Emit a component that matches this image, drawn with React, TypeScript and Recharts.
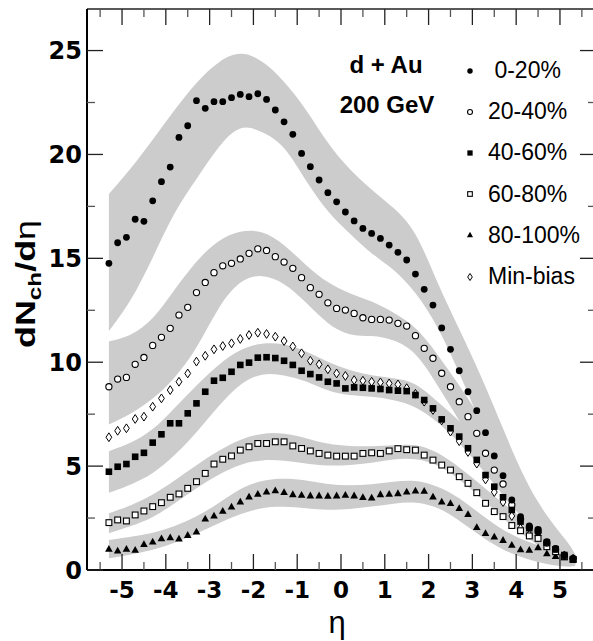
import { ComposedChart, Area, Scatter, XAxis, YAxis, Legend, Customized } from 'recharts'

// pseudorapidity bins of the measured points
const ETA = [
  -5.3, -5.1, -4.9, -4.7, -4.5, -4.3, -4.1, -3.9, -3.7, -3.5, -3.3, -3.1, -2.9, -2.7, -2.5, -2.3, -2.1, -1.9,
  -1.7, -1.5, -1.3, -1.1, -0.9, -0.7, -0.5, -0.3, -0.1, 0.1, 0.3, 0.5, 0.7, 0.9, 1.1, 1.3, 1.5, 1.7,
  1.9, 2.1, 2.3, 2.5, 2.7, 2.9, 3.1, 3.3, 3.5, 3.7, 3.9, 4.1, 4.3, 4.5, 4.7, 4.9, 5.1, 5.3,
]

const C_0_20 = [
  14.76, 15.75, 16.01, 16.88, 16.78, 17.77, 18.69, 19.39, 20.82, 21.38, 22.59, 22.22, 22.54, 22.54, 22.73, 22.89, 22.78, 22.92,
  22.65, 22.14, 21.57, 20.97, 20.05, 19.41, 18.77, 18.16, 17.72, 17.23, 16.8, 16.44, 16.2, 15.96, 15.64, 15.29, 14.92, 14.24,
  13.51, 12.75, 11.65, 10.62, 9.59, 8.58, 7.67, 6.61, 5.49, 4.54, 3.37, 2.57, 2.12, 1.96, 1.36, 1.04, 0.72, 0.56,
]
const C_20_40 = [
  8.82, 9.19, 9.27, 9.9, 10.23, 10.81, 11.2, 11.63, 12.27, 12.64, 13.35, 13.84, 14.31, 14.64, 14.76, 14.97, 15.24, 15.46,
  15.38, 15.08, 14.82, 14.52, 14.07, 13.59, 13.27, 12.86, 12.59, 12.51, 12.35, 12.14, 12.06, 12.06, 12.03, 11.87, 11.74, 11.28,
  10.67, 10.19, 9.47, 8.82, 8.1, 7.38, 6.58, 5.62, 4.81, 4.14, 3.13, 2.45, 2.05, 1.85, 1.3, 1.0, 0.7, 0.55,
]
const C_40_60 = [
  4.73, 4.97, 5.1, 5.45, 5.64, 6.13, 6.53, 7.06, 7.06, 7.54, 8.02, 8.58, 9.11, 9.25, 9.54, 9.87, 9.98, 10.22,
  10.24, 10.2, 10.07, 9.87, 9.59, 9.43, 9.27, 9.06, 8.98, 8.74, 8.79, 8.77, 8.74, 8.71, 8.66, 8.63, 8.61, 8.42,
  8.18, 7.78, 7.25, 6.82, 6.42, 5.86, 5.3, 4.57, 4.01, 3.5, 2.89, 2.33, 2.01, 1.89, 1.32, 1.0, 0.72, 0.51,
]
const C_60_80 = [
  2.28, 2.41, 2.36, 2.65, 2.84, 3.05, 3.24, 3.5, 3.66, 3.93, 4.25, 4.65, 5.1, 5.33, 5.49, 5.77, 5.93, 6.09,
  6.09, 6.17, 6.17, 5.97, 5.85, 5.73, 5.61, 5.53, 5.48, 5.48, 5.48, 5.61, 5.64, 5.61, 5.73, 5.84, 5.79, 5.77,
  5.53, 5.29, 5.05, 4.81, 4.49, 4.17, 3.72, 3.21, 2.81, 2.57, 2.14, 1.89, 1.64, 1.52, 1.12, 0.88, 0.64, 0.51,
]
const C_80_100 = [
  1.01, 0.93, 1.01, 0.96, 1.24, 1.36, 1.52, 1.57, 1.51, 1.68, 1.84, 2.47, 2.61, 2.84, 3.05, 3.29, 3.53, 3.66,
  3.77, 3.83, 3.74, 3.64, 3.61, 3.58, 3.58, 3.56, 3.58, 3.61, 3.58, 3.5, 3.48, 3.64, 3.66, 3.69, 3.77, 3.82,
  3.8, 3.53, 3.29, 3.21, 2.97, 2.68, 2.06, 1.77, 1.6, 1.44, 1.2, 0.99, 0.96, 1.08, 0.8, 0.67, 0.61, 0.51,
]
const MIN_BIAS = [
  6.39, 6.7, 6.82, 7.27, 7.38, 7.86, 8.26, 8.66, 9.06, 9.46, 10.03, 10.31, 10.62, 10.78, 10.91, 11.12, 11.31, 11.42,
  11.36, 11.23, 11.02, 10.76, 10.43, 10.07, 9.9, 9.66, 9.46, 9.34, 9.14, 9.11, 9.06, 9.03, 8.98, 8.93, 8.75, 8.48,
  8.1, 7.7, 7.2, 6.66, 6.2, 5.68, 5.12, 4.36, 3.75, 3.27, 2.6, 2.0, 1.7, 1.65, 1.2, 0.95, 0.7, 0.55,
]

// systematic error bands (lower / upper edge)
const BAND_ETA = [-5.3, -4.8, -4.3, -3.8, -3.3, -2.8, -2.3, -1.8, -1.3, -0.8, -0.3, 0.2, 0.7, 1.2, 1.7, 2.2, 2.7, 3.2, 3.7, 4.2, 4.7, 5.2, 5.35]
const B_0_20_LO = [11.5, 12.9, 15.0, 17.3, 18.8, 20.4, 21.5, 21.1, 20.5, 18.7, 17.2, 16.2, 15.2, 14.5, 13.4, 11.8, 9.5, 7.0, 4.5, 2.8, 1.5, 0.45, 0.3]
const B_0_20_HI = [18.1, 19.3, 20.7, 22.15, 23.5, 24.5, 25.0, 24.55, 23.55, 22.2, 20.5, 19.25, 18.3, 17.45, 16.4, 13.8, 11.6, 9.35, 6.8, 4.3, 2.55, 1.3, 0.75]
const B_20_40_LO = [7.0, 7.5, 8.2, 9.2, 10.6, 12.7, 14.0, 14.25, 13.85, 12.9, 11.8, 11.25, 11.3, 11.1, 10.55, 8.9, 7.2, 5.4, 3.8, 2.6, 1.4, 0.45, 0.3]
const B_20_40_HI = [11.0, 11.25, 12.0, 13.5, 14.9, 15.9, 16.35, 16.35, 15.7, 14.65, 13.8, 13.3, 12.95, 12.4, 11.75, 10.4, 8.9, 7.3, 5.6, 3.9, 2.4, 1.05, 0.6]
const B_40_60_LO = [3.72, 4.1, 4.6, 5.5, 6.6, 7.9, 9.0, 9.5, 9.4, 9.1, 8.6, 8.4, 8.35, 8.2, 7.9, 7.15, 6.15, 4.9, 3.6, 2.3, 1.2, 0.4, 0.3]
const B_40_60_HI = [5.72, 6.1, 6.7, 7.8, 8.9, 9.9, 10.65, 10.95, 10.9, 10.55, 10.0, 9.6, 9.35, 9.25, 9.05, 8.1, 7.2, 6.1, 4.9, 3.5, 2.3, 1.0, 0.55]
const B_60_80_LO = [1.77, 2.1, 2.5, 3.2, 3.95, 4.6, 5.1, 5.32, 5.27, 5.13, 5.0, 5.05, 5.15, 5.35, 5.38, 5.1, 4.4, 3.45, 2.5, 1.6, 0.9, 0.35, 0.3]
const B_60_80_HI = [2.73, 3.1, 3.6, 4.3, 5.05, 5.75, 6.3, 6.6, 6.6, 6.35, 6.05, 5.95, 5.95, 6.0, 6.08, 5.7, 4.95, 4.1, 3.2, 2.4, 1.7, 0.85, 0.5]
const B_80_100_LO = [0.56, 0.75, 0.95, 1.3, 1.75, 2.25, 2.7, 3.02, 3.07, 2.97, 2.88, 2.92, 3.05, 3.2, 3.3, 3.05, 2.4, 1.6, 0.95, 0.55, 0.27, 0.13, 0.2]
const B_80_100_HI = [1.44, 1.6, 1.77, 2.1, 2.55, 3.2, 3.95, 4.33, 4.42, 4.33, 4.12, 4.05, 4.12, 4.25, 4.35, 4.05, 3.5, 2.65, 1.9, 1.4, 1.05, 0.75, 0.5]

const X_TICKS = [-5.5, -5, -4.5, -4, -3.5, -3, -2.5, -2, -1.5, -1, -0.5, 0, 0.5, 1, 1.5, 2, 2.5, 3, 3.5, 4, 4.5, 5, 5.5]
const Y_TICKS = [0, 2.5, 5, 7.5, 10, 12.5, 15, 17.5, 20, 22.5, 25]

type Kind = 'dot' | 'ring' | 'square' | 'box' | 'tri' | 'diamond'

const SERIES: { name: string; values: number[]; kind: Kind; lo?: number[]; hi?: number[] }[] = [
  { name: ' 0-20%', values: C_0_20, kind: 'dot', lo: B_0_20_LO, hi: B_0_20_HI },
  { name: '20-40%', values: C_20_40, kind: 'ring', lo: B_20_40_LO, hi: B_20_40_HI },
  { name: '40-60%', values: C_40_60, kind: 'square', lo: B_40_60_LO, hi: B_40_60_HI },
  { name: '60-80%', values: C_60_80, kind: 'box', lo: B_60_80_LO, hi: B_60_80_HI },
  { name: '80-100%', values: C_80_100, kind: 'tri', lo: B_80_100_LO, hi: B_80_100_HI },
  { name: 'Min-bias', values: MIN_BIAS, kind: 'diamond' },
]
// later entries are painted on top
const DRAW_ORDER = ['Min-bias', '80-100%', '60-80%', '20-40%', '40-60%', ' 0-20%']

const SANS = '"Liberation Sans", Arial, sans-serif'
const TICK_FONT = '"DejaVu Sans", sans-serif'
const BAND = '#cccccc'

function Marker({ kind, cx, cy, s = 1 }: { kind: Kind; cx: number; cy: number; s?: number }) {
  switch (kind) {
    case 'dot':
      return <circle cx={cx} cy={cy} r={3.4 * s} fill="#000" />
    case 'ring':
      return <circle cx={cx} cy={cy} r={3.1 * s} fill="#fff" stroke="#000" strokeWidth={1.1} />
    case 'square':
      return <rect x={cx - 3.3 * s} y={cy - 3.3 * s} width={6.6 * s} height={6.6 * s} fill="#000" />
    case 'box':
      return <rect x={cx - 2.9 * s} y={cy - 2.9 * s} width={5.8 * s} height={5.8 * s} fill="#fff" stroke="#000" strokeWidth={1.1} />
    case 'tri':
      return <polygon points={`${cx},${cy - 4 * s} ${cx + 3.8 * s},${cy + 2.8 * s} ${cx - 3.8 * s},${cy + 2.8 * s}`} fill="#000" />
    default:
      return <polygon points={`${cx},${cy - 4.4 * s} ${cx + 2.9 * s},${cy} ${cx},${cy + 4.4 * s} ${cx - 2.9 * s},${cy}`} fill="#fff" stroke="#000" strokeWidth={1} />
  }
}

function frameTick(side: 'bottom' | 'top' | 'left' | 'right') {
  return function Tick(props: any) {
    const { x, y, payload } = props
    const v = payload.value
    const major = side === 'left' || side === 'right' ? v % 5 === 0 : Number.isInteger(v)
    const len = major ? 16 : 8
    const stroke = major ? '#222' : '#555'
    let line
    if (side === 'bottom') line = <line x1={x} y1={y} x2={x} y2={y - len} />
    else if (side === 'top') line = <line x1={x} y1={y} x2={x} y2={y + len} />
    else if (side === 'left') line = <line x1={x} y1={y} x2={x + len} y2={y} />
    else line = <line x1={x} y1={y} x2={x - (major ? 15 : 7)} y2={y} />
    let label = null
    if (major && side === 'bottom')
      label = <text x={x} y={y + 28} textAnchor="middle" fontFamily={TICK_FONT} fontWeight="bold" fontSize={23} fill="#000">{String(v)}</text>
    if (major && side === 'left')
      label = <text x={x - 5} y={y + 8.5} textAnchor="end" fontFamily={TICK_FONT} fontWeight="bold" fontSize={24} fill="#000">{String(v)}</text>
    return (
      <g>
        <g stroke={stroke} strokeWidth={1.3}>{line}</g>
        {label}
      </g>
    )
  }
}

function LegendBox({ payload }: any) {
  const items = [...(payload ?? [])]
    .filter((p: any) => SERIES.some((s) => s.name === p.value))
    .sort((a: any, b: any) => SERIES.findIndex((s) => s.name === a.value) - SERIES.findIndex((s) => s.name === b.value))
  return (
    <div style={{ fontFamily: SANS, fontSize: 23, color: '#000' }}>
      {items.map((it: any) => {
        const s = SERIES.find((e) => e.name === it.value)!
        return (
          <div key={it.value} style={{ display: 'flex', alignItems: 'center', height: 41.2 }}>
            <svg width={12} height={12} style={{ display: 'block' }}>
              <Marker kind={s.kind} cx={6} cy={6} s={0.8} />
            </svg>
            <span style={{ marginLeft: 12, whiteSpace: 'pre', lineHeight: '41.2px' }}>{it.value}</span>
          </div>
        )
      })}
    </div>
  )
}

function Annotations() {
  return (
    <g fill="#000">
      <text x={386} y={73} textAnchor="middle" fontFamily={SANS} fontWeight="bold" fontSize={24}>d + Au</text>
      <text x={387} y={113} textAnchor="middle" fontFamily={SANS} fontWeight="bold" fontSize={24}>200 GeV</text>
      <text x={337} y={633} textAnchor="middle" fontFamily={SANS} fontSize={31}>η</text>
      <text
        transform="translate(35 284) rotate(-90)"
        textAnchor="middle"
        fontFamily={SANS}
        fontWeight="bold"
        fontSize={28}
        textLength={128}
        lengthAdjust="spacingAndGlyphs"
      >
        dN<tspan fontSize={19} dy={6}>ch</tspan>
        <tspan dy={-6}>/d</tspan>
        <tspan fontWeight="normal">η</tspan>
      </text>
    </g>
  )
}

export default function App() {
  const bands = SERIES.filter((s) => s.lo && s.hi).map((s) => ({
    name: s.name,
    data: BAND_ETA.map((eta, i) => ({ eta, range: [s.lo![i], s.hi![i]] })),
  }))
  const series = DRAW_ORDER.map((n) => SERIES.find((s) => s.name === n)!)

  return (
    <div style={{ position: 'absolute', left: 0, top: 0, width: 593, height: 641, overflow: 'hidden', background: '#fff' }}>
      <ComposedChart width={600} height={641} margin={{ top: 8, right: 4, bottom: 41, left: 27 }}>
        <XAxis
          dataKey="eta"
          type="number"
          domain={[-5.8, 5.8]}
          allowDataOverflow
          ticks={X_TICKS}
          interval={0}
          height={30}
          tickSize={0}
          tickMargin={0}
          tickLine={false}
          axisLine={{ stroke: '#000', strokeWidth: 2 }}
          tick={frameTick('bottom')}
        />
        <XAxis
          xAxisId="top"
          orientation="top"
          dataKey="eta"
          type="number"
          domain={[-5.8, 5.8]}
          allowDataOverflow
          ticks={X_TICKS}
          interval={0}
          height={1}
          tickSize={0}
          tickMargin={0}
          tickLine={false}
          axisLine={{ stroke: '#222', strokeWidth: 1.6 }}
          tick={frameTick('top')}
        />
        <YAxis
          type="number"
          domain={[0, 27]}
          allowDataOverflow
          ticks={Y_TICKS}
          interval={0}
          width={60}
          tickSize={0}
          tickMargin={0}
          tickLine={false}
          axisLine={{ stroke: '#000', strokeWidth: 2 }}
          tick={frameTick('left')}
        />
        <YAxis
          yAxisId="right"
          orientation="right"
          type="number"
          domain={[0, 27]}
          allowDataOverflow
          ticks={Y_TICKS}
          interval={0}
          width={1}
          tickSize={0}
          tickMargin={0}
          tickLine={false}
          axisLine={{ stroke: '#222', strokeWidth: 1.6 }}
          tick={frameTick('right')}
        />

        {bands.map((b) => (
          <Area
            key={`band-${b.name}`}
            data={b.data}
            dataKey="range"
            type="basis"
            stroke="none"
            fill={BAND}
            fillOpacity={1}
            dot={false}
            activeDot={false}
            legendType="none"
            isAnimationActive={false}
          />
        ))}

        {series.map((s) => (
          <Scatter
            key={s.name}
            name={s.name}
            data={ETA.map((eta, i) => ({ eta, v: s.values[i] }))}
            dataKey="v"
            isAnimationActive={false}
            shape={(p: any) => <Marker kind={s.kind} cx={p.cx} cy={p.cy} />}
          />
        ))}

        <Legend
          layout="vertical"
          align="center"
          verticalAlign="middle"
          wrapperStyle={{ left: 464, top: 50, width: 'auto' }}
          content={LegendBox}
        />
        <Customized component={Annotations} />
      </ComposedChart>
    </div>
  )
}
